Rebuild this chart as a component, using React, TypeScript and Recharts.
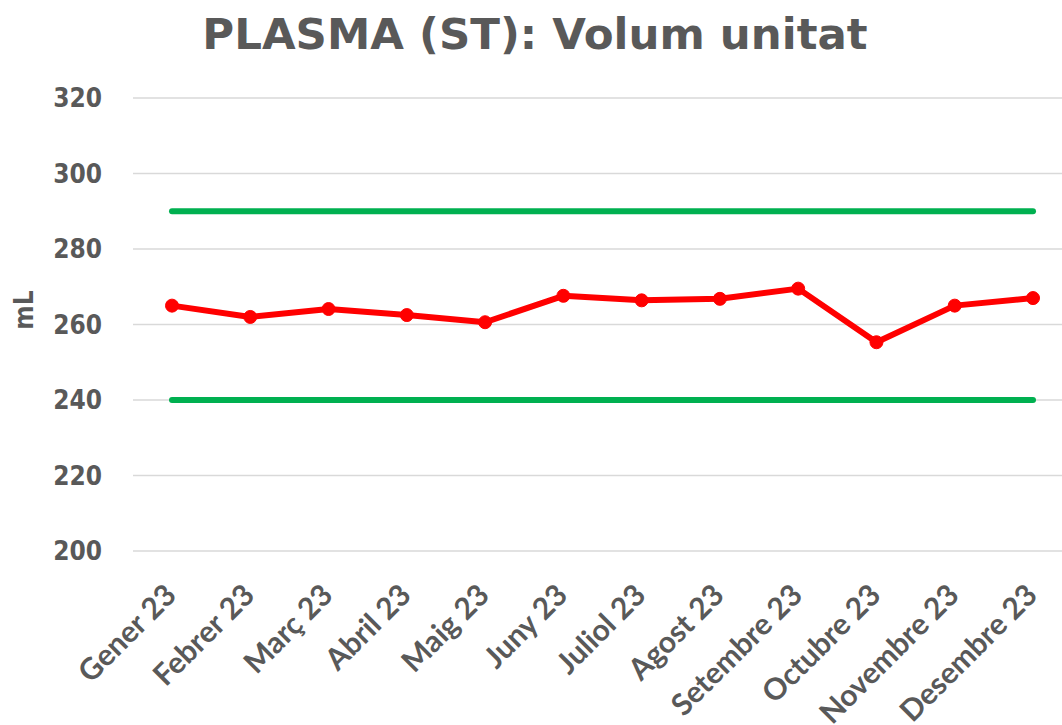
import React from 'react';
import { LineChart, Line, XAxis, YAxis, CartesianGrid } from 'recharts';

const months = [
  'Gener 23', 'Febrer 23', 'Març 23', 'Abril 23', 'Maig 23', 'Juny 23',
  'Juliol 23', 'Agost 23', 'Setembre 23', 'Octubre 23', 'Novembre 23', 'Desembre 23',
];
const volume = [265.0, 262.0, 264.1, 262.5, 260.6, 267.6, 266.4, 266.8, 269.5, 255.3, 265.0, 267.0];
const upperLimit = [290, 290, 290, 290, 290, 290, 290, 290, 290, 290, 290, 290];
const lowerLimit = [240, 240, 240, 240, 240, 240, 240, 240, 240, 240, 240, 240];
const yTicks = [200, 220, 240, 260, 280, 300, 320];

const data = months.map((m, i) => ({
  month: m,
  volume: volume[i],
  upper: upperLimit[i],
  lower: lowerLimit[i],
}));

const TEXT = '#595959';

const XTick = (props: any) => {
  const { x, y, payload } = props;
  return (
    <text
      transform={`translate(${x + 6}, ${y + 46}) rotate(-45)`}
      textAnchor="end"
      fontFamily="Lato, 'Open Sans', sans-serif"
      fontWeight={700}
      fontSize={30}
      fill={TEXT}
    >
      {payload.value}
    </text>
  );
};

export default function App() {
  return (
    <div style={{ position: 'absolute', left: 0, top: 0, width: 1062, height: 725, background: '#fff' }}>
      <LineChart
        width={1062}
        height={725}
        data={data}
        margin={{ top: 98, right: 0, bottom: 0, left: 0 }}
      >
        <CartesianGrid vertical={false} stroke="#D9D9D9" strokeWidth={1.5} />
        <XAxis
          dataKey="month"
          axisLine={false}
          tickLine={false}
          tickSize={0}
          tickMargin={0}
          height={174}
          interval={0}
          padding={{ left: 39, right: 29 }}
          tick={<XTick />}
        />
        <YAxis
          domain={[200, 320]}
          ticks={yTicks}
          axisLine={false}
          tickLine={false}
          tickSize={0}
          tickMargin={31}
          width={133}
          tick={{ fill: TEXT, fontSize: 26, fontWeight: 700, fontFamily: "'DejaVu Sans Condensed', 'DejaVu Sans', sans-serif" }}
        />
        <Line
          dataKey="upper"
          stroke="#00B050"
          strokeWidth={6}
          strokeLinecap="round"
          dot={false}
          isAnimationActive={false}
        />
        <Line
          dataKey="lower"
          stroke="#00B050"
          strokeWidth={6}
          strokeLinecap="round"
          dot={false}
          isAnimationActive={false}
        />
        <Line
          dataKey="volume"
          stroke="#FF0000"
          strokeWidth={6}
          strokeLinejoin="round"
          dot={{ r: 6.5, fill: '#FF0000', stroke: '#FF0000', strokeWidth: 1 }}
          isAnimationActive={false}
        />
      </LineChart>
      <svg
        width={1062}
        height={725}
        style={{ position: 'absolute', left: 0, top: 0, pointerEvents: 'none' }}
      >
        <text
          x={535}
          y={49}
          textAnchor="middle"
          fontFamily="'DejaVu Sans', sans-serif"
          fontWeight={700}
          fontSize={43.5}
          fill={TEXT}
        >
          PLASMA (ST): Volum unitat
        </text>
        <text
          transform="translate(33, 310) rotate(-90)"
          textAnchor="middle"
          fontFamily="'DejaVu Sans Condensed', 'DejaVu Sans', sans-serif"
          fontWeight={700}
          fontSize={26}
          fill={TEXT}
        >
          mL
        </text>
      </svg>
    </div>
  );
}
